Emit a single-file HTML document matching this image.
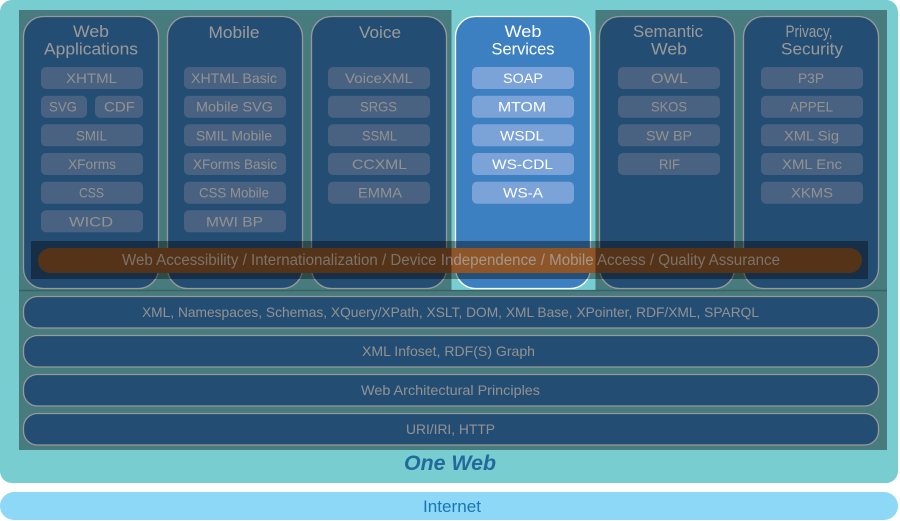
<!DOCTYPE html>
<html><head><meta charset="utf-8"><style>
html,body{margin:0;padding:0;background:#fff;}
svg{display:block;}
text{font-family:"Liberation Sans",sans-serif;}
</style></head><body>
<svg width="900" height="521" viewBox="0 0 900 521" xmlns="http://www.w3.org/2000/svg">
<defs>
<clipPath id="cin"><rect x="451.5" y="230" width="144" height="60"/></clipPath>
<clipPath id="cout"><path d="M0 230H451.5V290H0Z M595.5 230H900V290H595.5Z"/></clipPath>
</defs>
<rect x="0" y="0" width="898" height="483" rx="12" fill="#77cdd0"/>
<rect x="0" y="492" width="898" height="28" rx="14" fill="#8cd8f6"/>

<!-- columns -->
<g stroke="#ffffff" stroke-width="1.3" fill="#3d80c1">
<rect x="23.5" y="16.5" width="135" height="272" rx="20"/>
<rect x="167.5" y="16.5" width="135" height="272" rx="20"/>
<rect x="311.5" y="16.5" width="135" height="272" rx="20"/>
<rect x="455.5" y="16.5" width="135" height="272" rx="20"/>
<rect x="599.5" y="16.5" width="135" height="272" rx="20"/>
<rect x="743.5" y="16.5" width="135" height="272" rx="20"/>
</g>

<!-- titles -->
<g fill="#ffffff" font-size="17" text-anchor="middle">
<text x="91" y="37" textLength="36" lengthAdjust="spacingAndGlyphs">Web</text>
<text x="91" y="54.5" textLength="94" lengthAdjust="spacingAndGlyphs">Applications</text>
<text x="234" y="38" textLength="51" lengthAdjust="spacingAndGlyphs">Mobile</text>
<text x="380" y="38" textLength="42" lengthAdjust="spacingAndGlyphs">Voice</text>
<text x="523" y="37" textLength="37" lengthAdjust="spacingAndGlyphs">Web</text>
<text x="523" y="54.5" textLength="63" lengthAdjust="spacingAndGlyphs">Services</text>
<text x="668" y="37" textLength="70" lengthAdjust="spacingAndGlyphs">Semantic</text>
<text x="669" y="54.5" textLength="36" lengthAdjust="spacingAndGlyphs">Web</text>
<text x="809" y="37" textLength="47" lengthAdjust="spacingAndGlyphs">Privacy,</text>
<text x="812" y="54.5" textLength="62" lengthAdjust="spacingAndGlyphs">Security</text>
</g>

<!-- items -->
<g fill="#7ba3d7">
<rect x="41" y="67" width="102" height="22" rx="5"/>
<rect x="41" y="95.7" width="46" height="22" rx="5"/>
<rect x="95" y="95.7" width="48" height="22" rx="5"/>
<rect x="41" y="124.3" width="102" height="22" rx="5"/>
<rect x="41" y="153" width="102" height="22" rx="5"/>
<rect x="41" y="181.7" width="102" height="22" rx="5"/>
<rect x="41" y="210.3" width="102" height="22" rx="5"/>

<rect x="184" y="67" width="102" height="22" rx="5"/>
<rect x="184" y="95.7" width="102" height="22" rx="5"/>
<rect x="184" y="124.3" width="102" height="22" rx="5"/>
<rect x="184" y="153" width="102" height="22" rx="5"/>
<rect x="184" y="181.7" width="102" height="22" rx="5"/>
<rect x="184" y="210.3" width="102" height="22" rx="5"/>

<rect x="328" y="67" width="102" height="22" rx="5"/>
<rect x="328" y="95.7" width="102" height="22" rx="5"/>
<rect x="328" y="124.3" width="102" height="22" rx="5"/>
<rect x="328" y="153" width="102" height="22" rx="5"/>
<rect x="328" y="181.7" width="102" height="22" rx="5"/>

<rect x="472" y="67" width="102" height="22" rx="5"/>
<rect x="472" y="95.7" width="102" height="22" rx="5"/>
<rect x="472" y="124.3" width="102" height="22" rx="5"/>
<rect x="472" y="153" width="102" height="22" rx="5"/>
<rect x="472" y="181.7" width="102" height="22" rx="5"/>

<rect x="618" y="67" width="102" height="22" rx="5"/>
<rect x="618" y="95.7" width="102" height="22" rx="5"/>
<rect x="618" y="124.3" width="102" height="22" rx="5"/>
<rect x="618" y="153" width="102" height="22" rx="5"/>

<rect x="761" y="67" width="102" height="22" rx="5"/>
<rect x="761" y="95.7" width="102" height="22" rx="5"/>
<rect x="761" y="124.3" width="102" height="22" rx="5"/>
<rect x="761" y="153" width="102" height="22" rx="5"/>
<rect x="761" y="181.7" width="102" height="22" rx="5"/>
</g>

<g fill="#f2f2f2" font-size="14" text-anchor="middle">
<text x="91.5" y="83" textLength="51" lengthAdjust="spacingAndGlyphs">XHTML</text>
<text x="63" y="111.7" textLength="28" lengthAdjust="spacingAndGlyphs">SVG</text>
<text x="119.5" y="111.7" textLength="31" lengthAdjust="spacingAndGlyphs">CDF</text>
<text x="91.5" y="140.3" textLength="31" lengthAdjust="spacingAndGlyphs">SMIL</text>
<text x="92" y="169" textLength="48" lengthAdjust="spacingAndGlyphs">XForms</text>
<text x="91.5" y="197.7" textLength="25" lengthAdjust="spacingAndGlyphs">CSS</text>
<text x="91" y="226.3" textLength="44" lengthAdjust="spacingAndGlyphs">WICD</text>

<text x="234" y="83" textLength="86" lengthAdjust="spacingAndGlyphs">XHTML Basic</text>
<text x="234.5" y="111.7" textLength="77" lengthAdjust="spacingAndGlyphs">Mobile SVG</text>
<text x="234" y="140.3" textLength="76" lengthAdjust="spacingAndGlyphs">SMIL Mobile</text>
<text x="235" y="169" textLength="84" lengthAdjust="spacingAndGlyphs">XForms Basic</text>
<text x="234" y="197.7" textLength="70" lengthAdjust="spacingAndGlyphs">CSS Mobile</text>
<text x="234.5" y="226.3" textLength="57" lengthAdjust="spacingAndGlyphs">MWI  BP</text>

<text x="379" y="83" textLength="68" lengthAdjust="spacingAndGlyphs">VoiceXML</text>
<text x="378.5" y="111.7" textLength="37" lengthAdjust="spacingAndGlyphs">SRGS</text>
<text x="379.5" y="140.3" textLength="35" lengthAdjust="spacingAndGlyphs">SSML</text>
<text x="379.5" y="169" textLength="55" lengthAdjust="spacingAndGlyphs">CCXML</text>
<text x="380" y="197.7" textLength="44" lengthAdjust="spacingAndGlyphs">EMMA</text>

<text x="669.5" y="83" textLength="37" lengthAdjust="spacingAndGlyphs">OWL</text>
<text x="669" y="111.7" textLength="36" lengthAdjust="spacingAndGlyphs">SKOS</text>
<text x="669" y="140.3" textLength="46" lengthAdjust="spacingAndGlyphs">SW BP</text>
<text x="669.5" y="169" textLength="21" lengthAdjust="spacingAndGlyphs">RIF</text>

<text x="811" y="83" textLength="26" lengthAdjust="spacingAndGlyphs">P3P</text>
<text x="811.5" y="111.7" textLength="43" lengthAdjust="spacingAndGlyphs">APPEL</text>
<text x="811.5" y="140.3" textLength="55" lengthAdjust="spacingAndGlyphs">XML Sig</text>
<text x="812" y="169" textLength="60" lengthAdjust="spacingAndGlyphs">XML Enc</text>
<text x="812" y="197.7" textLength="42" lengthAdjust="spacingAndGlyphs">XKMS</text>
</g>
<g fill="#ffffff" font-size="14" text-anchor="middle">
<text x="523" y="83" textLength="40" lengthAdjust="spacingAndGlyphs">SOAP</text>
<text x="522" y="111.7" textLength="48" lengthAdjust="spacingAndGlyphs">MTOM</text>
<text x="522" y="140.3" textLength="44" lengthAdjust="spacingAndGlyphs">WSDL</text>
<text x="522.5" y="169" textLength="61" lengthAdjust="spacingAndGlyphs">WS-CDL</text>
<text x="523" y="197.7" textLength="40" lengthAdjust="spacingAndGlyphs">WS-A</text>
</g>

<!-- accessibility band -->
<rect x="31" y="241" width="837" height="38" fill="rgba(0,0,0,0.38)"/>
<rect x="38" y="248" width="824" height="25" rx="12.5" fill="#8e5628"/>

<!-- layer rows -->
<g stroke="#ffffff" stroke-width="1.3" fill="#3d80c1">
<rect x="23.5" y="296.5" width="855" height="31.5" rx="14"/>
<rect x="23.5" y="335.5" width="855" height="31.5" rx="14"/>
<rect x="23.5" y="374.5" width="855" height="31.5" rx="14"/>
<rect x="23.5" y="413.5" width="855" height="31.5" rx="14"/>
</g>
<g fill="#f2f2f2" font-size="14" text-anchor="middle">
<text x="450.5" y="317" textLength="617" lengthAdjust="spacingAndGlyphs">XML, Namespaces, Schemas, XQuery/XPath, XSLT, DOM, XML Base, XPointer, RDF/XML, SPARQL</text>
<text x="448.5" y="356" textLength="173" lengthAdjust="spacingAndGlyphs">XML Infoset, RDF(S) Graph</text>
<text x="450.5" y="395" textLength="179" lengthAdjust="spacingAndGlyphs">Web Architectural Principles</text>
<text x="450.5" y="434" textLength="89" lengthAdjust="spacingAndGlyphs">URI/IRI, HTTP</text>
</g>

<!-- dark overlay with cutout -->
<path d="M19 10H887V450H19Z M451.5 10V290H595.5V10Z" fill="rgba(0,0,0,0.4)" fill-rule="evenodd"/>
<line x1="19" y1="290.5" x2="887" y2="290.5" stroke="rgba(0,0,0,0.2)" stroke-width="1.6"/>

<!-- pill text -->
<g font-size="15.5" text-anchor="middle">
<text x="451" y="265" textLength="658" lengthAdjust="spacingAndGlyphs" fill="#7a736b" clip-path="url(#cout)">Web Accessibility / Internationalization / Device Independence / Mobile Access / Quality Assurance</text>
<text x="451" y="265" textLength="658" lengthAdjust="spacingAndGlyphs" fill="#a2978b" clip-path="url(#cin)">Web Accessibility / Internationalization / Device Independence / Mobile Access / Quality Assurance</text>
</g>

<text x="450" y="470" font-size="21" font-weight="bold" font-style="italic" fill="#226a9b" text-anchor="middle" textLength="92" lengthAdjust="spacingAndGlyphs">One Web</text>
<text x="452" y="512" font-size="17" fill="#1b75b6" text-anchor="middle" textLength="58" lengthAdjust="spacingAndGlyphs">Internet</text>
</svg>
</body></html>
